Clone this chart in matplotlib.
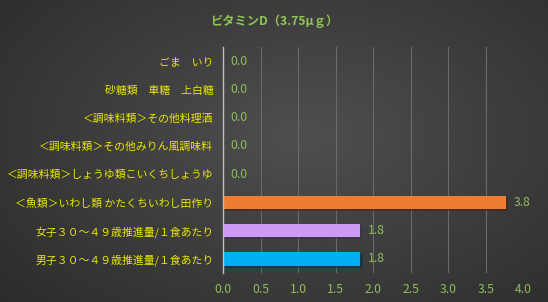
import numpy as np
import matplotlib
matplotlib.use("Agg")
import matplotlib.pyplot as plt
import matplotlib.patheffects as pe

plt.rcParams['font.family'] = ['Noto Sans CJK JP', 'DejaVu Sans']

title = "ビタミンD（3.75μｇ）"
categories = [
    "ごま　いり",
    "砂糖類　車糖　上白糖",
    "＜調味料類＞その他料理酒",
    "＜調味料類＞その他みりん風調味料",
    "＜調味料類＞しょうゆ類こいくちしょうゆ",
    "＜魚類＞いわし類 かたくちいわし田作り",
    "女子３０～４９歳推進量/１食あたり",
    "男子３０～４９歳推進量/１食あたり",
]
values = [0.0, 0.0, 0.0, 0.0, 0.0, 3.77, 1.83, 1.83]
colors = ["#ED7D31"] * 6 + ["#CC99F5", "#00B0F0"]

fig = plt.figure(figsize=(5.48, 3.02), dpi=100)

# dark radial background
bg = fig.add_axes([0, 0, 1, 1], zorder=-10)
yy, xx = np.mgrid[0:1:200j, 0:1:300j]
r = np.sqrt(((xx - 0.55) / 0.8) ** 2 + ((yy - 0.45) / 0.9) ** 2)
shade = np.clip(0.31 - 0.15 * r, 0.16, 0.31)
bg.imshow(np.dstack([shade] * 3), aspect='auto', extent=[0, 1, 0, 1])
bg.axis('off')

ax = fig.add_axes([0.407, 0.096, 0.548, 0.748])
ax.patch.set_alpha(0)

y = np.arange(len(categories))
bars = ax.barh(y, values, height=0.47, color=colors, zorder=3)
for b in bars:
    b.set_path_effects([pe.SimplePatchShadow(offset=(1.5, -1.5), alpha=0.6), pe.Normal()])

for yi, v in zip(y, values):
    ax.text(v + 0.1, yi, f"{v:.1f}", va='center', ha='left', color='#8FBC5A', fontsize=8.8, zorder=4)

ax.set_ylim(len(categories) - 0.5, -0.5)
ax.set_xlim(0, 4.0)
ax.set_xticks(np.arange(0, 4.01, 0.5))
ax.set_xticklabels([f"{t:.1f}" for t in np.arange(0, 4.01, 0.5)])
ax.set_yticks(y)
ax.set_yticklabels(categories)
ax.tick_params(axis='x', colors='#8FBC5A', labelsize=8.8, length=0, pad=7)
ax.tick_params(axis='y', colors='#E8E800', labelsize=7.8, length=0, pad=7)
for lbl in ax.get_xticklabels():
    lbl.set_color('#8FBC5A')
for lbl in ax.get_yticklabels():
    lbl.set_color('#E8E800')

ax.grid(axis='x', color='#6a6a6a', linewidth=0.8, zorder=0)
for s in ['top', 'right', 'bottom']:
    ax.spines[s].set_visible(False)
ax.spines['left'].set_color('#bfbfbf')
ax.spines['left'].set_linewidth(1.0)
ax.spines['left'].set_zorder(5)

fig.text(0.5, 0.93, title, ha='center', va='center', color='#8FC555', fontsize=8.8, fontweight='bold')

fig.savefig("out.png", dpi=100)
